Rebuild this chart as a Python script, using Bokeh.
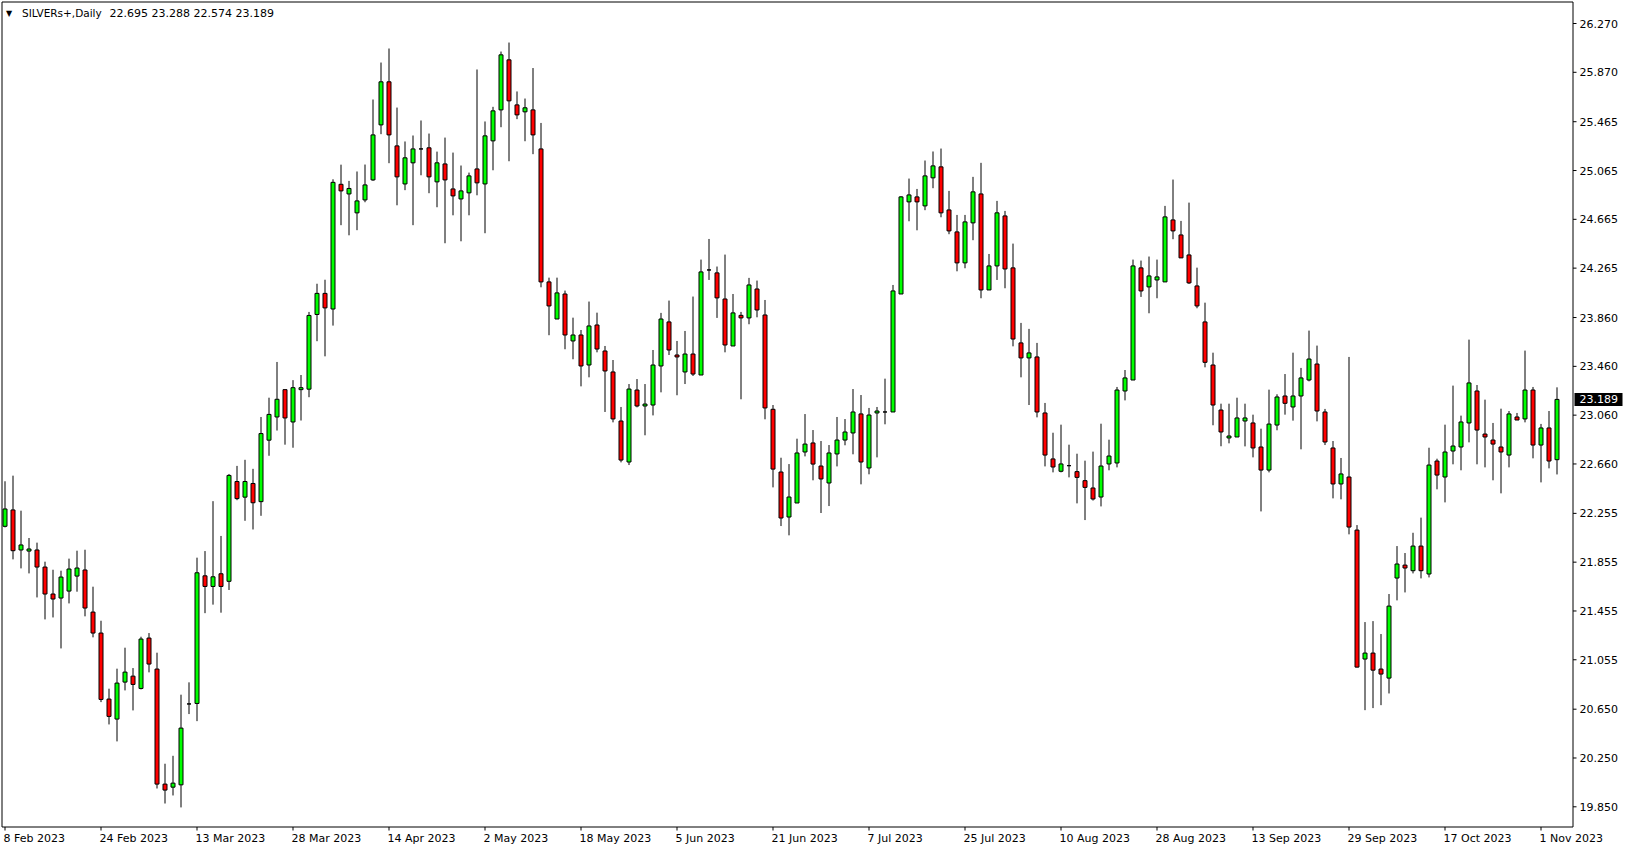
from bokeh.plotting import figure
from bokeh.models import Range1d, ColumnDataSource
from bokeh.core.properties import value
from bokeh.embed import file_html
from bokeh.resources import INLINE

# ---------------- data (daily bars, 8 Feb 2023 .. 3 Nov 2023) ----------------
opens = [22.149, 22.283, 21.955, 21.946, 21.955, 21.815, 21.594, 21.561, 21.618, 21.741,
         21.791, 21.446, 21.274, 20.733, 20.569, 20.872, 20.921, 20.820, 21.233, 20.979,
         20.036, 20.011, 20.030, 20.693, 20.697, 21.743, 21.656, 21.760, 21.698, 22.516,
         22.388, 22.500, 22.351, 22.855, 23.045, 23.269, 23.004, 23.269, 23.273, 23.885,
         24.058, 23.930, 24.952, 24.873, 24.718, 24.824, 24.988, 25.439, 25.792, 25.267,
         24.955, 25.128, 25.242, 25.251, 24.972, 25.119, 24.914, 24.832, 24.882, 25.078,
         24.955, 25.308, 25.562, 25.972, 25.603, 25.546, 25.562, 25.242, 24.152, 23.848,
         24.053, 23.668, 23.717, 23.471, 23.799, 23.586, 23.414, 23.012, 22.676, 23.266,
         23.135, 23.143, 23.463, 23.824, 23.553, 23.414, 23.561, 23.389, 24.250, 24.226,
         24.012, 23.627, 23.878, 23.857, 24.094, 23.881, 23.108, 22.594, 22.225, 22.340,
         22.758, 22.832, 22.643, 22.504, 22.742, 22.856, 22.914, 23.070, 22.627, 23.078,
         23.086, 23.086, 24.053, 24.808, 24.849, 24.775, 25.005, 25.095, 24.742, 24.562,
         24.308, 24.636, 24.873, 24.086, 24.283, 24.693, 24.267, 23.652, 23.529, 23.537,
         23.078, 22.701, 22.600, 22.646, 22.597, 22.523, 22.463, 22.389, 22.660, 22.668,
         23.258, 23.348, 24.267, 24.111, 24.168, 24.152, 24.660, 24.537, 24.373, 24.119,
         23.824, 23.471, 23.102, 22.873, 22.881, 23.012, 22.996, 22.799, 22.610, 22.979,
         23.217, 23.127, 23.217, 23.348, 23.479, 23.086, 22.791, 22.496, 22.553, 22.118,
         21.061, 21.110, 20.979, 20.905, 21.725, 21.831, 21.785, 21.987, 21.758, 22.684,
         22.553, 22.766, 22.799, 22.996, 23.258, 22.905, 22.856, 22.799, 22.733, 23.045,
         23.029, 23.266, 22.815, 22.955, 22.695]
highs = [22.518, 22.564, 22.277, 22.053, 22.015, 21.859, 21.793, 21.785, 21.884, 21.949,
         21.957, 21.654, 21.375, 20.818, 20.982, 21.154, 20.987, 21.244, 21.274, 21.113,
         20.203, 20.268, 20.769, 20.870, 21.892, 21.946, 22.355, 22.070, 22.578, 22.644,
         22.694, 22.620, 23.045, 23.203, 23.496, 23.269, 23.347, 23.389, 23.906, 24.137,
         24.170, 24.993, 25.113, 24.980, 25.057, 25.114, 25.647, 25.950, 26.065, 25.581,
         25.303, 25.352, 25.475, 25.368, 25.220, 25.335, 25.212, 25.106, 25.048, 25.893,
         25.467, 25.587, 26.040, 26.114, 25.713, 25.655, 25.905, 25.455, 24.187, 24.187,
         24.081, 23.859, 23.758, 23.991, 23.900, 23.627, 23.512, 23.127, 23.315, 23.356,
         23.315, 23.594, 23.898, 23.999, 23.668, 23.750, 24.032, 24.335, 24.504, 24.278,
         24.376, 24.053, 23.906, 24.185, 24.163, 24.004, 23.143, 22.711, 22.659, 22.867,
         23.069, 22.938, 22.848, 22.815, 23.045, 23.028, 23.274, 23.225, 23.119, 23.127,
         23.359, 24.127, 24.855, 24.999, 24.914, 25.147, 25.221, 25.245, 24.898, 24.701,
         24.701, 25.013, 25.128, 24.381, 24.816, 24.734, 24.466, 23.816, 23.767, 23.652,
         23.160, 22.916, 22.982, 22.818, 22.744, 22.687, 22.761, 22.990, 22.859, 23.291,
         23.430, 24.335, 24.327, 24.360, 24.335, 24.775, 24.991, 24.652, 24.802, 24.269,
         23.982, 23.572, 23.154, 23.154, 23.203, 23.154, 23.064, 22.949, 23.269, 23.231,
         23.397, 23.572, 23.447, 23.753, 23.630, 23.111, 22.848, 22.709, 23.537, 22.159,
         21.364, 21.372, 21.266, 21.594, 21.987, 21.930, 22.096, 22.220, 22.793, 22.703,
         22.982, 23.302, 23.056, 23.679, 23.307, 23.187, 22.996, 23.113, 23.094, 23.078,
         23.589, 23.291, 22.988, 23.094, 23.288]
lows = [22.140, 21.878, 21.804, 21.763, 21.566, 21.386, 21.402, 21.148, 21.517, 21.613,
        21.411, 21.239, 20.708, 20.525, 20.386, 20.804, 20.640, 20.812, 20.952, 20.000,
        19.877, 19.943, 19.845, 20.610, 20.552, 21.437, 21.507, 21.441, 21.627, 22.363,
        22.194, 22.123, 22.235, 22.727, 22.934, 22.818, 22.793, 23.016, 23.207, 23.666,
        23.542, 23.794, 24.617, 24.534, 24.576, 24.805, 24.980, 25.363, 25.125, 24.780,
        24.904, 24.617, 25.026, 24.879, 24.764, 24.469, 24.698, 24.485, 24.698, 24.862,
        24.551, 25.067, 25.420, 25.141, 25.486, 25.305, 25.199, 24.108, 23.715, 23.848,
        23.600, 23.518, 23.296, 23.370, 23.575, 23.086, 23.001, 22.673, 22.651, 23.124,
        22.895, 23.058, 23.247, 23.553, 23.223, 23.315, 23.381, 23.389, 24.168, 23.857,
        23.575, 23.627, 23.190, 23.805, 23.862, 23.026, 22.468, 22.151, 22.075, 22.340,
        22.722, 22.526, 22.258, 22.315, 22.640, 22.813, 22.739, 22.493, 22.575, 22.714,
        22.985, 23.086, 24.053, 24.649, 24.575, 24.740, 24.920, 24.682, 24.543, 24.239,
        24.264, 24.494, 24.018, 24.086, 24.168, 24.100, 23.624, 23.370, 23.143, 23.042,
        22.640, 22.591, 22.591, 22.550, 22.337, 22.200, 22.360, 22.312, 22.608, 22.632,
        23.181, 23.348, 24.029, 23.895, 24.018, 24.152, 24.502, 24.349, 24.135, 23.936,
        23.452, 22.977, 22.805, 22.829, 22.881, 22.804, 22.714, 22.271, 22.591, 22.936,
        23.064, 23.015, 22.780, 23.337, 23.009, 22.815, 22.378, 22.370, 22.083, 20.992,
        20.642, 20.659, 20.683, 20.779, 21.542, 21.607, 21.763, 21.722, 21.730, 22.452,
        22.345, 22.657, 22.608, 22.837, 22.657, 22.632, 22.526, 22.419, 22.632, 23.020,
        23.001, 22.706, 22.509, 22.624, 22.574]
closes = [22.291, 21.949, 21.996, 21.963, 21.815, 21.594, 21.553, 21.733, 21.799, 21.807,
          21.479, 21.274, 20.730, 20.591, 20.864, 20.954, 20.853, 21.225, 21.020, 20.036,
          19.987, 20.044, 20.495, 20.693, 21.768, 21.656, 21.735, 21.656, 22.566, 22.376,
          22.516, 22.342, 22.909, 23.066, 23.190, 23.037, 23.285, 23.285, 23.877, 24.058,
          23.939, 24.968, 24.898, 24.918, 24.816, 24.947, 25.357, 25.792, 25.357, 25.013,
          25.169, 25.242, 25.242, 25.013, 25.128, 24.988, 24.857, 24.898, 25.021, 24.964,
          25.349, 25.554, 26.013, 25.636, 25.521, 25.579, 25.357, 24.152, 23.955, 24.062,
          23.717, 23.717, 23.463, 23.791, 23.602, 23.422, 23.029, 22.692, 23.274, 23.135,
          23.151, 23.471, 23.848, 23.594, 23.537, 23.561, 23.397, 24.234, 24.250, 24.021,
          23.635, 23.898, 23.857, 24.127, 23.922, 23.119, 22.618, 22.217, 22.389, 22.750,
          22.823, 22.659, 22.537, 22.750, 22.856, 22.922, 23.086, 22.676, 23.061, 23.094,
          23.086, 24.078, 24.849, 24.865, 24.808, 25.021, 25.103, 24.718, 24.570, 24.308,
          24.644, 24.890, 24.086, 24.283, 24.718, 24.258, 23.684, 23.529, 23.570, 23.086,
          22.733, 22.635, 22.660, 22.646, 22.550, 22.468, 22.373, 22.643, 22.725, 23.266,
          23.365, 24.283, 24.078, 24.201, 24.193, 24.685, 24.570, 24.349, 24.144, 23.955,
          23.493, 23.143, 22.922, 22.889, 23.037, 23.037, 22.791, 22.610, 22.987, 23.209,
          23.157, 23.217, 23.365, 23.520, 23.094, 22.840, 22.496, 22.578, 22.143, 20.995,
          21.110, 20.970, 20.938, 21.495, 21.840, 21.807, 21.987, 21.785, 22.651, 22.569,
          22.758, 22.807, 23.004, 23.324, 22.938, 22.881, 22.823, 22.758, 23.070, 23.020,
          23.266, 22.815, 22.955, 22.684, 23.189]

date_label_bars = [0, 12, 24, 36, 48, 60, 72, 84, 96, 108, 120, 132, 144, 156, 168, 180, 192]
date_labels = ["8 Feb 2023", "24 Feb 2023", "13 Mar 2023", "28 Mar 2023", "14 Apr 2023",
               "2 May 2023", "18 May 2023", "5 Jun 2023", "21 Jun 2023", "7 Jul 2023",
               "25 Jul 2023", "10 Aug 2023", "28 Aug 2023", "13 Sep 2023", "29 Sep 2023",
               "17 Oct 2023", "1 Nov 2023"]
price_ticks = [26.270, 25.870, 25.465, 25.065, 24.665, 24.265, 23.860, 23.460, 23.060,
               22.660, 22.255, 21.855, 21.455, 21.055, 20.650, 20.250, 19.850]
price_tick_labels = [f"{t:.3f}" for t in price_ticks]
symbol_text = "SILVERs+,Daily"

# ---------------- layout constants (page pixels) ----------------
W, H = 1629, 850
FONT = value("DejaVu Sans")
BAR_PX = 8.0          # pixels per bar
BAR0_PX = 4.5         # page x of first bar
FRAME_L, FRAME_R, FRAME_T, FRAME_B = 1.5, 1572.5, 1.5, 826.5
TOP_TICK_PX, BOT_TICK_PX = 23.0, 806.3
PPU = (BOT_TICK_PX - TOP_TICK_PX) / (price_ticks[0] - price_ticks[-1])


def xd(px):
    return (px - BAR0_PX) / BAR_PX


def yd(py):
    return price_ticks[0] - (py - TOP_TICK_PX) / PPU


n = len(opens)
idx = list(range(n))
up = [c >= o for o, c in zip(opens, closes)]
src = ColumnDataSource(dict(
    x=idx, o=opens, h=highs, l=lows, c=closes,
    top=[max(o, c) for o, c in zip(opens, closes)],
    bot=[min(o, c) for o, c in zip(opens, closes)],
    color=["#00ff00" if u else "#ff0000" for u in up],
))

p = figure(width=W, height=H,
           x_range=Range1d(xd(0), xd(W)), y_range=Range1d(yd(H), yd(0)),
           output_backend="svg", toolbar_location=None,
           x_axis_location=None, y_axis_location=None, min_border=0)
p.grid.visible = False
p.background_fill_color = "white"
p.border_fill_color = "white"
p.outline_line_color = None

# candles
p.segment(x0="x", y0="l", x1="x", y1="h", source=src, line_color="black", line_width=1)
p.vbar(x="x", width=4.0 / BAR_PX, top="top", bottom="bot", source=src,
       fill_color="color", line_color="black", line_width=1)

# chart frame
p.quad(left=[xd(FRAME_L)], right=[xd(FRAME_R)], top=[yd(FRAME_T)], bottom=[yd(FRAME_B)],
       fill_color=None, line_color="black", line_width=1)

# price scale (right)
p.segment(x0=[xd(FRAME_R)] * len(price_ticks), x1=[xd(FRAME_R + 3.5)] * len(price_ticks),
          y0=price_ticks, y1=price_ticks, line_color="black", line_width=1)
p.text(x=[xd(1579)] * len(price_ticks), y=price_ticks, text=price_tick_labels,
       text_font=FONT, text_font_size="11px", text_color="black",
       text_align="left", text_baseline="middle")

# time scale (bottom)
p.segment(x0=date_label_bars, x1=date_label_bars,
          y0=[yd(FRAME_B)] * len(date_label_bars), y1=[yd(FRAME_B + 3.5)] * len(date_label_bars),
          line_color="black", line_width=1)
p.text(x=date_label_bars, y=[yd(837.5)] * len(date_label_bars), text=date_labels,
       text_font=FONT, text_font_size="11px", text_color="black",
       text_align="left", text_baseline="middle", x_offset=-1.5)

# header
p.text(x=[xd(5.5)], y=[yd(12.5)], text=["\u25bc"], text_font=FONT, text_font_size="8px",
       text_color="black", text_align="left", text_baseline="middle")
p.text(x=[xd(21.5)], y=[yd(12.5)], text=[symbol_text], text_font=FONT,
       text_font_size="10.5px", text_color="black", text_align="left",
       text_baseline="middle")
ohlc_text = " ".join(f"{v:.3f}" for v in (opens[-1], highs[-1], lows[-1], closes[-1]))
p.text(x=[xd(109)], y=[yd(12.5)], text=[ohlc_text], text_font=FONT, text_font_size="11px",
       text_color="black", text_align="left", text_baseline="middle")

# current price tag
last = closes[-1]
p.quad(left=[xd(1574)], right=[xd(1622)], top=[last + 6.5 / PPU], bottom=[last - 6.5 / PPU],
       fill_color="black", line_color=None)
p.text(x=[xd(1579)], y=[last], text=[f"{last:.3f}"], text_font=FONT, text_font_size="11px",
       text_color="white", text_align="left", text_baseline="middle")

open("out.html", "w").write(file_html(p, INLINE))
